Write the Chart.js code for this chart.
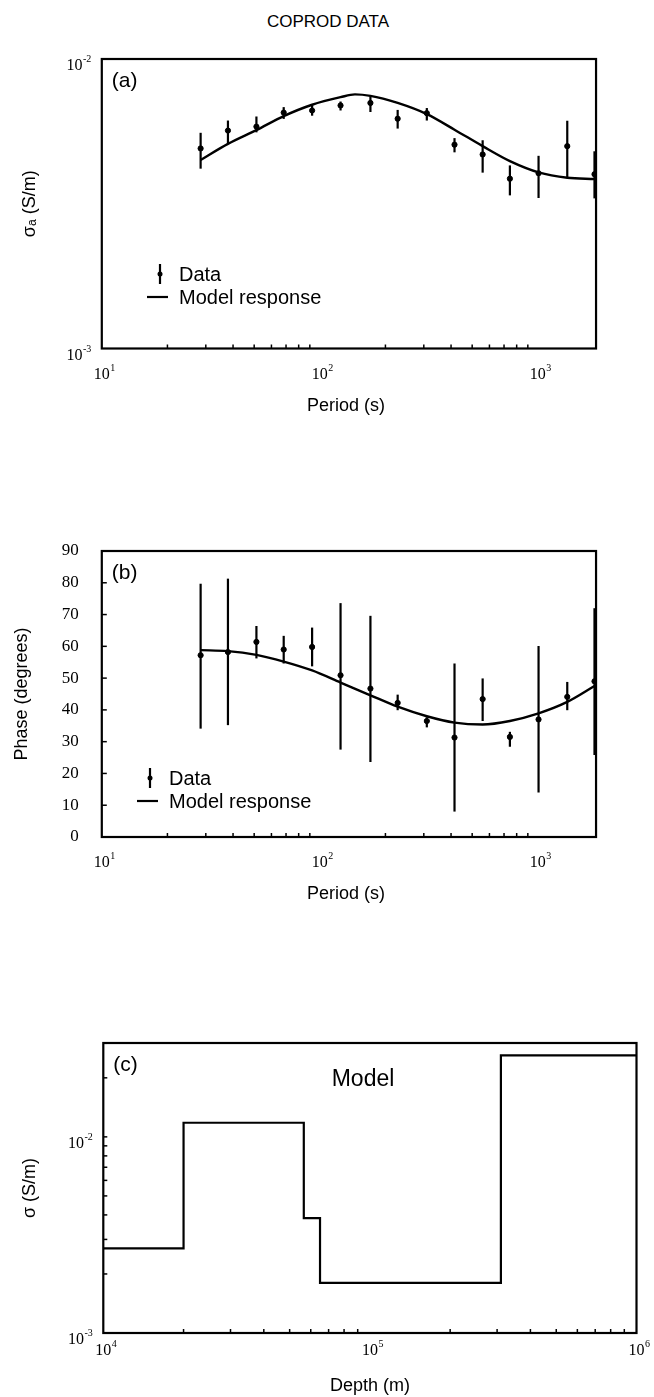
<!DOCTYPE html>
<html>
<head>
<meta charset="utf-8">
<script src="https://cdn.jsdelivr.net/npm/chart.js@4.4.0/dist/chart.umd.min.js"></script>
<style>
  body { margin: 0; background: #fff; }
  #page { position: relative; width: 654px; height: 1397px; background: #fff; }
  #title { position: absolute; left: 0; width: 656px; top: 12px; text-align: center;
           font: 17px "Liberation Sans", Arial, sans-serif; color: #000; }
  canvas { position: absolute; left: 0; }
</style>
</head>
<body>
<div id="page">
  <div id="title">COPROD DATA</div>
  <canvas id="chartA" width="654" height="420" style="top:0px"></canvas>
  <canvas id="chartB" width="654" height="440" style="top:480px"></canvas>
  <canvas id="chartC" width="654" height="437" style="top:960px"></canvas>
</div>
<script>
// Periods (s) of the data points
var periods = [28.4, 37.9, 51.2, 68.3, 92.2, 124.5, 170.7, 227.6, 309.7, 414.9, 558.5, 744.7, 1008, 1365, 1820];

// (a) apparent conductivity (S/m)
var sigmaA   = [4.91e-3, 5.66e-3, 5.84e-3, 6.53e-3, 6.64e-3, 6.91e-3, 7.05e-3, 6.22e-3, 6.50e-3, 5.06e-3, 4.68e-3, 3.86e-3, 4.03e-3, 5.00e-3, 4.00e-3];
var sigmaALo = [4.18e-3, 5.09e-3, 5.58e-3, 6.21e-3, 6.37e-3, 6.64e-3, 6.56e-3, 5.75e-3, 6.13e-3, 4.76e-3, 4.05e-3, 3.38e-3, 3.31e-3, 3.89e-3, 3.30e-3];
var sigmaAHi = [5.56e-3, 6.13e-3, 6.33e-3, 6.82e-3, 6.93e-3, 7.13e-3, 7.42e-3, 6.67e-3, 6.77e-3, 5.33e-3, 5.24e-3, 4.29e-3, 4.63e-3, 6.12e-3, 4.80e-3];
var modelPeriodsA = [28.4, 37.9, 51.2, 68.3, 92.2, 124.5, 145, 170.7, 227.6, 309.7, 414.9, 558.5, 744.7, 1008, 1365, 1820];
var modelSigmaA   = [4.48e-3, 5.09e-3, 5.68e-3, 6.35e-3, 6.95e-3, 7.38e-3, 7.55e-3, 7.46e-3, 7.05e-3, 6.45e-3, 5.70e-3, 5.00e-3, 4.44e-3, 4.06e-3, 3.89e-3, 3.85e-3];

// (b) phase (degrees)
var phase   = [57.2, 58.2, 61.4, 59.0, 59.8, 50.9, 46.7, 42.2, 36.5, 31.3, 43.4, 31.5, 37.0, 44.1, 49.0];
var phaseLo = [34.1, 35.2, 56.2, 54.6, 53.7, 27.5, 23.6, 39.9, 34.5,  8.0, 36.5, 28.4, 14.0, 39.9, 25.8];
var phaseHi = [79.7, 81.3, 66.4, 63.3, 65.9, 73.6, 69.6, 44.8, 37.7, 54.6, 49.9, 33.1, 60.1, 48.8, 72.0];
var modelPhase = [58.8, 58.5, 57.3, 55.2, 52.4, 48.6, 44.6, 41.0, 38.0, 36.0, 35.4, 36.5, 38.9, 42.5, 47.5];

// (c) layered model: layer tops (m) and conductivity (S/m)
var depthEdges = [1e4, 2e4, 5.65e4, 6.5e4, 3.1e5, 1e6];
var sigmaModel = [2.7e-3, 1.18e-2, 3.85e-3, 1.8e-3, 2.6e-2, 2.6e-2];

// tick labels
var periodTicks = [10, 100, 1000];
var periodTickExp = ['1', '2', '3'];
var sigmaTicks = [1e-3, 1e-2];
var sigmaTickExp = ['-3', '-2'];
var phaseTicks = [0, 10, 20, 30, 40, 50, 60, 70, 80, 90];
var depthTicks = [1e4, 1e5, 1e6];
var depthTickExp = ['4', '5', '6'];

var SANS = '"Liberation Sans", Arial, sans-serif';
var SERIF = '"Liberation Serif", "Times New Roman", serif';

function logMinors(min, max) {
    var out = [];
    for (var d = Math.floor(Math.log10(min)); d <= Math.ceil(Math.log10(max)); d++) {
        for (var m = 2; m <= 9; m++) {
            var v = m * Math.pow(10, d);
            if (v > min && v < max) out.push(v);
        }
    }
    return out;
}

function drawPow(ctx, x, y, exp, align) {
    // "10" with a raised exponent; x is centre of "10" or right edge
    ctx.font = '16px ' + SERIF;
    var w = ctx.measureText('10').width;
    ctx.font = '10px ' + SERIF;
    var we = ctx.measureText(exp).width;
    var left = align === 'right' ? x - w - we : x - w / 2;
    ctx.textAlign = 'left';
    ctx.textBaseline = 'alphabetic';
    ctx.font = '16px ' + SERIF;
    ctx.fillText('10', left, y);
    ctx.font = '10px ' + SERIF;
    ctx.fillText(exp, left + w + 0.5, y - 8);
}

// error bars drawn through the chart scales
var errorBars = {
    id: 'errorBars',
    afterDatasetsDraw: function(chart, args, opts) {
        if (!opts.lo) return;
        var ctx = chart.ctx, xs = chart.scales.x, ys = chart.scales.y;
        ctx.save();
        ctx.strokeStyle = '#000';
        ctx.lineWidth = 2.2;
        opts.x.forEach(function(xv, i) {
            var px = xs.getPixelForValue(xv);
            ctx.beginPath();
            ctx.moveTo(px, ys.getPixelForValue(opts.lo[i]));
            ctx.lineTo(px, ys.getPixelForValue(opts.hi[i]));
            ctx.stroke();
        });
        ctx.restore();
    }
};

// frame, inward ticks, labels, titles and legend
var frameAxes = {
    id: 'frameAxes',
    afterDraw: function(chart, args, o) {
        var ctx = chart.ctx, a = chart.chartArea;
        var xs = chart.scales.x, ys = chart.scales.y;
        ctx.save();
        ctx.strokeStyle = '#000';
        ctx.fillStyle = '#000';
        ctx.lineWidth = 1.5;
        (o.xMinor || []).forEach(function(v) {
            var px = xs.getPixelForValue(v);
            ctx.beginPath(); ctx.moveTo(px, a.bottom); ctx.lineTo(px, a.bottom - 4); ctx.stroke();
        });
        (o.yMinor || []).forEach(function(v) {
            var py = ys.getPixelForValue(v);
            ctx.beginPath(); ctx.moveTo(a.left, py); ctx.lineTo(a.left + 4, py); ctx.stroke();
        });
        (o.yMajorTicks || []).forEach(function(v) {
            var py = ys.getPixelForValue(v);
            ctx.beginPath(); ctx.moveTo(a.left, py); ctx.lineTo(a.left + 5, py); ctx.stroke();
        });
        ctx.lineWidth = 2.2;
        ctx.strokeRect(a.left, a.top, a.right - a.left, a.bottom - a.top);

        // x tick labels
        o.xTicks.forEach(function(v, i) {
            drawPow(ctx, xs.getPixelForValue(v), a.bottom + o.xLabelGap, o.xExp[i], 'center');
        });
        // y tick labels
        if (o.yExp) {
            o.yTicks.forEach(function(v, i) {
                drawPow(ctx, a.left - 11, ys.getPixelForValue(v) + 11, o.yExp[i], 'right');
            });
        } else {
            ctx.font = '17px ' + SERIF;
            ctx.textAlign = 'right';
            ctx.textBaseline = 'middle';
            o.yTicks.forEach(function(v) {
                ctx.fillText(String(v), a.left - 23, ys.getPixelForValue(v));
            });
        }
        // axis titles
        ctx.font = '18px ' + SANS;
        ctx.textAlign = 'center';
        ctx.textBaseline = 'alphabetic';
        ctx.fillText(o.xTitle, o.xTitleX, a.bottom + o.xTitleGap);
        ctx.save();
        ctx.translate(o.yTitleX, (a.top + a.bottom) / 2);
        ctx.rotate(-Math.PI / 2);
        ctx.textBaseline = 'middle';
        ctx.fillText(o.yTitle, 0, 0);
        ctx.restore();
        // panel letter
        ctx.font = '21px ' + SANS;
        ctx.textAlign = 'left';
        ctx.textBaseline = 'top';
        ctx.fillText(o.panel, a.left + 10, a.top + 12);
        if (o.note) {
            ctx.font = '23px ' + SANS;
            ctx.textAlign = 'center';
            ctx.fillText(o.note, o.noteX, a.top + 25);
        }
        // legend
        if (o.legendY) {
            var ly = a.top + o.legendY, lx = o.legendX;
            ctx.lineWidth = 2.2;
            ctx.beginPath(); ctx.moveTo(lx, ly - 10); ctx.lineTo(lx, ly + 10); ctx.stroke();
            ctx.beginPath(); ctx.arc(lx, ly, 2.5, 0, Math.PI * 2); ctx.fill();
            ctx.beginPath(); ctx.moveTo(lx - 13, ly + 23); ctx.lineTo(lx + 8, ly + 23); ctx.stroke();
            ctx.font = '20px ' + SANS;
            ctx.textAlign = 'left';
            ctx.textBaseline = 'middle';
            ctx.fillText('Data', lx + 19, ly + 1);
            ctx.fillText('Model response', lx + 19, ly + 24);
        }
        ctx.restore();
    }
};

function baseOptions(pad, xScale, yScale, frame, bars) {
    return {
        responsive: false,
        animation: false,
        events: [],
        layout: { padding: pad },
        plugins: {
            legend: { display: false },
            tooltip: { enabled: false },
            errorBars: bars,
            frameAxes: frame
        },
        scales: { x: xScale, y: yScale }
    };
}

function pts(xv, yv) {
    return xv.map(function(x, i) { return { x: x, y: yv[i] }; });
}

window.onload = function() {
    var xPeriod = { type: 'logarithmic', min: 10, max: 1850, display: false };
    var padA = 654 - (101.8 + 218 * Math.log10(1850 / 10));

    new Chart(document.getElementById('chartA').getContext('2d'), {
        type: 'scatter',
        data: { datasets: [
            { data: pts(modelPeriodsA, modelSigmaA), showLine: true, borderColor: '#000', borderWidth: 2.4,
              pointRadius: 0, cubicInterpolationMode: 'monotone' },
            { data: pts(periods, sigmaA), pointRadius: 2.6, backgroundColor: '#000', borderColor: '#000' }
        ]},
        options: baseOptions({ left: 101.8, right: padA, top: 59, bottom: 71.5 }, xPeriod,
            { type: 'logarithmic', min: 1e-3, max: 1e-2, display: false },
            { xMinor: logMinors(10, 1850), xTicks: periodTicks, xExp: periodTickExp, xLabelGap: 30,
              yTicks: sigmaTicks, yExp: sigmaTickExp, xTitle: 'Period (s)', xTitleX: 346, xTitleGap: 62,
              yTitle: 'σₐ (S/m)', yTitleX: 30, panel: '(a)', legendX: 160, legendY: 215 },
            { x: periods, lo: sigmaALo, hi: sigmaAHi }),
        plugins: [errorBars, frameAxes]
    });

    new Chart(document.getElementById('chartB').getContext('2d'), {
        type: 'scatter',
        data: { datasets: [
            { data: pts(periods, modelPhase), showLine: true, borderColor: '#000', borderWidth: 2.4,
              pointRadius: 0, cubicInterpolationMode: 'monotone' },
            { data: pts(periods, phase), pointRadius: 2.6, backgroundColor: '#000', borderColor: '#000' }
        ]},
        options: baseOptions({ left: 101.8, right: padA, top: 71, bottom: 83 }, xPeriod,
            { type: 'linear', min: 0, max: 90, display: false },
            { xMinor: logMinors(10, 1850), yMajorTicks: [10, 20, 30, 40, 50, 60, 70, 80],
              xTicks: periodTicks, xExp: periodTickExp, xLabelGap: 30,
              yTicks: phaseTicks, xTitle: 'Period (s)', xTitleX: 346, xTitleGap: 62,
              yTitle: 'Phase (degrees)', yTitleX: 22, panel: '(b)', legendX: 150, legendY: 227 },
            { x: periods, lo: phaseLo, hi: phaseHi }),
        plugins: [errorBars, frameAxes]
    });

    new Chart(document.getElementById('chartC').getContext('2d'), {
        type: 'scatter',
        data: { datasets: [
            { data: pts(depthEdges, sigmaModel), showLine: true, stepped: 'before', borderColor: '#000',
              borderWidth: 2.2, pointRadius: 0 }
        ]},
        options: baseOptions({ left: 103.3, right: 17.5, top: 83, bottom: 64 },
            { type: 'logarithmic', min: 1e4, max: 1e6, display: false },
            { type: 'logarithmic', min: 1e-3, max: 0.0301, display: false },
            { xMinor: logMinors(1e4, 1e6), yMinor: logMinors(1e-3, 0.0301).concat([1e-2]),
              xTicks: depthTicks, xExp: depthTickExp, xLabelGap: 22,
              yTicks: sigmaTicks, yExp: sigmaTickExp, xTitle: 'Depth (m)', xTitleX: 370, xTitleGap: 58,
              yTitle: 'σ (S/m)', yTitleX: 30, panel: '(c)', note: 'Model', noteX: 363 },
            {}),
        plugins: [errorBars, frameAxes]
    });
};
</script>
</body>
</html>
